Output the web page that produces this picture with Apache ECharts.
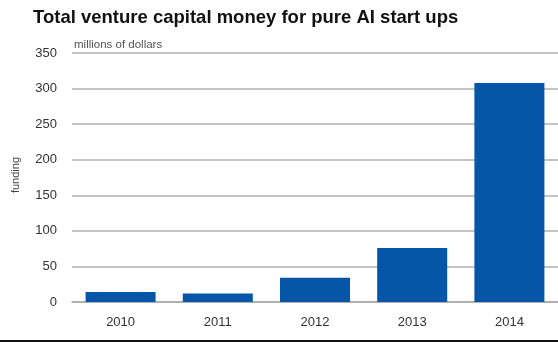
<!DOCTYPE html>
<html><head><meta charset="utf-8">
<script src="https://cdn.jsdelivr.net/npm/echarts@6/dist/echarts.min.js"></script>
<style>html,body{margin:0;padding:0;background:#fff}#c{width:558px;height:342px}</style>
</head><body><div id="c"></div>
<script>
const categories = ['2010','2011','2012','2013','2014'];
const funding = [14, 12, 34, 76, 308];
const yTicks = [0, 50, 100, 150, 200, 250, 300, 350];
const titleText = 'Total venture capital money for pure AI start ups';
const unitText = 'millions of dollars';
const yAxisTitle = 'funding';

const chart = echarts.init(document.getElementById('c'));
chart.setOption({
  animation: false,
  backgroundColor: '#fff',
  title: {
    text: titleText, left: 28, top: 3,
    textStyle: { fontFamily: 'Liberation Sans', fontSize: 18.5, fontWeight: 'bold', color: '#111' }
  },
  grid: { left: 72, right: -2, top: 53, bottom: 40, containLabel: false },
  xAxis: {
    type: 'category', data: categories,
    axisLine: { show: true, lineStyle: { color: '#a8a8a8', width: 1.5 } },
    axisTick: { show: false },
    axisLabel: { color: '#333', fontFamily: 'Liberation Sans', fontSize: 13, margin: 14 }
  },
  yAxis: {
    type: 'value', min: yTicks[0], max: yTicks[yTicks.length - 1], interval: 50,
    name: unitText, nameLocation: 'end', nameGap: 2,
    nameTextStyle: { align: 'left', verticalAlign: 'bottom', color: '#555', fontFamily: 'Liberation Sans', fontSize: 11.5, padding: [0, 0, 0, 2] },
    axisLine: { show: false }, axisTick: { show: false },
    axisLabel: { color: '#333', fontFamily: 'Liberation Sans', fontSize: 13, margin: 15 },
    splitLine: { lineStyle: { color: '#b0b0b0', width: 1.5 } }
  },
  graphic: [
    { type: 'text', left: 10, top: 157, rotation: Math.PI / 2,
      style: { text: yAxisTitle, fill: '#444', font: '11px "Liberation Sans"' } },
    { type: 'rect', left: 0, top: 340, shape: { width: 558, height: 2 }, style: { fill: '#111' } }
  ],
  series: [{
    type: 'bar', data: funding, barWidth: 70,
    itemStyle: { color: '#0556a8' }
  }]
});
</script></body></html>
